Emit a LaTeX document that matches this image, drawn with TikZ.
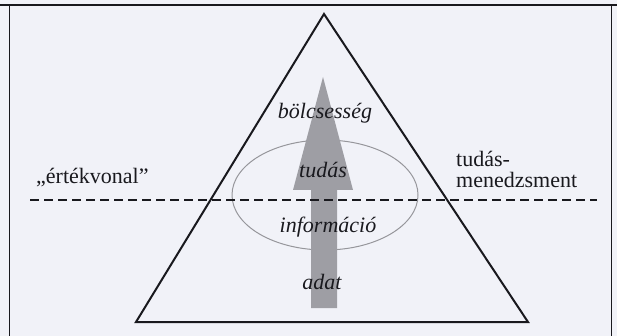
\documentclass[tikz,border=0pt]{standalone}
\usepackage{fontspec}
\usetikzlibrary{shapes.geometric}
\setmainfont{Liberation Serif}
\definecolor{bg}{RGB}{241,242,248}
\definecolor{ink}{RGB}{25,25,30}
\definecolor{arrowgray}{RGB}{158,158,164}
\definecolor{ellgray}{RGB}{150,150,155}
\begin{document}
\begin{tikzpicture}[x=1pt,y=-1pt,
  lbl/.style={font=\fontsize{22}{21}\selectfont\itshape, text=ink, inner sep=0pt},
  side/.style={font=\fontsize{22}{21}\selectfont, text=ink, inner sep=0pt, align=left},
  frameline/.style={draw=ink, line width=1pt},
  pyr/.style={draw=ink, line width=2pt, line join=miter},
  valline/.style={draw=ink, line width=2pt, dash pattern=on 9pt off 5pt},
  ell/.style={draw=ellgray, line width=1pt},
  upar/.style={fill=arrowgray, draw=none}]
\useasboundingbox (0,0) rectangle (617,336);
\fill[bg] (0,0) rectangle (617,336);
% frame
\coordinate (fbl) at (9,340);
\coordinate (ftl) at (9,5);
\coordinate (ftr) at (611,5);
\coordinate (fbr) at (611,340);
\draw[frameline] (fbl) -- (ftl);
\draw[frameline] (fbr) -- (ftr);
\draw[draw=ink, line width=2pt] (0,5) -- (617,5);
% ellipse
\node[ell, ellipse, minimum width=186pt, minimum height=110pt, inner sep=0pt] (ring) at (325,195) {};
% arrow
\coordinate (tip) at (323,77);
\path[upar] (311,308) -- (311,190) -- (293,190) -- (tip) -- (353,190) -- (337,190) -- (337,308) -- cycle;
% triangle
\coordinate (apex) at (324,14);
\coordinate (bl) at (136,322);
\coordinate (br) at (528,322);
\draw[pyr] (apex) -- (bl) -- (br) -- cycle;
% dashed value line
\coordinate (vl) at (30,200);
\coordinate (vr) at (597,200);
\draw[valline] (vl) -- (vr);
% labels
\node[lbl] (wis) at (325,113) {bölcsesség};
\node[lbl] (know) at (323,170) {tudás};
\node[lbl] (info) at (328,227) {információ};
\node[lbl] (data) at (322,282) {adat};
\node[side, anchor=west] (val) at (36,178) {„értékvonal”};
\node[side, anchor=west] (km) at (456,169) {tudás-\\menedzsment};
\end{tikzpicture}
\end{document}
